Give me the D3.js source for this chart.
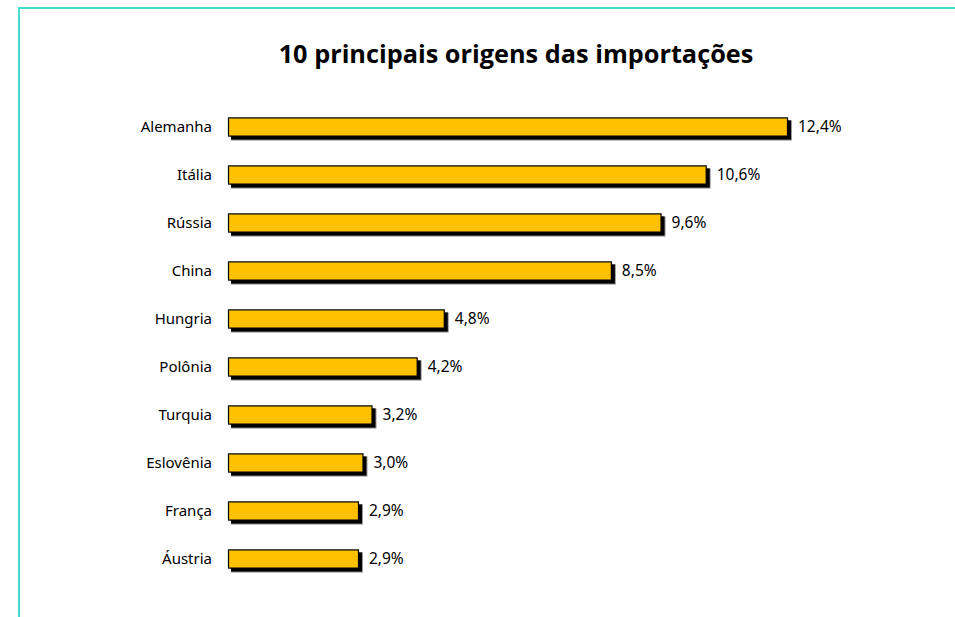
<!DOCTYPE html>
<html><head><meta charset="utf-8">
<script src="https://cdn.jsdelivr.net/npm/d3@7"></script>
<style>html,body{margin:0;padding:0;background:#fff;overflow:hidden;}svg{display:block;}</style>
</head><body>
<svg id="c" width="955" height="617"></svg>
<script>
const title = "10 principais origens das importações";
const categories = ["Alemanha","Itália","Rússia","China","Hungria","Polônia","Turquia","Eslovênia","França","Áustria"];
const values = [12.4,10.6,9.6,8.5,4.8,4.2,3.2,3.0,2.9,2.9];
const valueLabels = ["12,4%","10,6%","9,6%","8,5%","4,8%","4,2%","3,2%","3,0%","2,9%","2,9%"];

const svg = d3.select("#c");
svg.append("line").attr("x1",18).attr("x2",955).attr("y1",8).attr("y2",8)
  .attr("stroke","#40DDD0").attr("stroke-width",2);
svg.append("line").attr("x1",19).attr("x2",19).attr("y1",7).attr("y2",617)
  .attr("stroke","#40DDD0").attr("stroke-width",2);

svg.append("text").attr("x",516).attr("y",63).attr("text-anchor","middle")
  .attr("font-family","'Open Sans', 'Noto Sans', sans-serif").attr("font-weight","bold")
  .attr("font-size",25.3).attr("fill","#000").text(title);

const x = d3.scaleLinear().domain([0,12.4]).range([228,788]);
const y = d3.scaleBand().domain(categories).range([103,583]).paddingInner(0.6).paddingOuter(0.3);

const data = categories.map((c,i)=>({c, v:values[i], l:valueLabels[i]}));
const g = svg.append("g");
g.selectAll("rect.sh2").data(data).enter().append("rect").attr("class","sh2")
  .attr("x",d=>x(0)+3).attr("y",d=>y(d.c)+3)
  .attr("width",d=>x(d.v)-x(0)+1).attr("height",y.bandwidth()+1)
  .attr("fill","#999");
g.selectAll("rect.sh").data(data).enter().append("rect").attr("class","sh")
  .attr("x",d=>x(0)+3).attr("y",d=>y(d.c)+3)
  .attr("width",d=>x(d.v)-x(0)).attr("height",y.bandwidth())
  .attr("fill","#000");
g.selectAll("rect.b").data(data).enter().append("rect").attr("class","b")
  .attr("x",d=>x(0)+0.5).attr("y",d=>y(d.c)+0.5)
  .attr("width",d=>x(d.v)-x(0)-1).attr("height",y.bandwidth()-1)
  .attr("fill","#FFC000").attr("stroke","#000").attr("stroke-width",1.2);

g.selectAll("text.cat").data(data).enter().append("text").attr("class","cat")
  .attr("x",212).attr("y",d=>y(d.c)+y.bandwidth()/2).attr("dy","0.35em")
  .attr("text-anchor","end").attr("font-family","'Noto Sans', sans-serif").attr("font-size",15)
  .attr("fill","#000").text(d=>d.c);
g.selectAll("text.val").data(data).enter().append("text").attr("class","val")
  .attr("x",d=>x(d.v)+10).attr("y",d=>y(d.c)+y.bandwidth()/2).attr("dy","0.35em")
  .attr("font-family","'Noto Sans', sans-serif").attr("font-size",15.5)
  .attr("fill","#000").text(d=>d.l);
</script>
</body></html>
